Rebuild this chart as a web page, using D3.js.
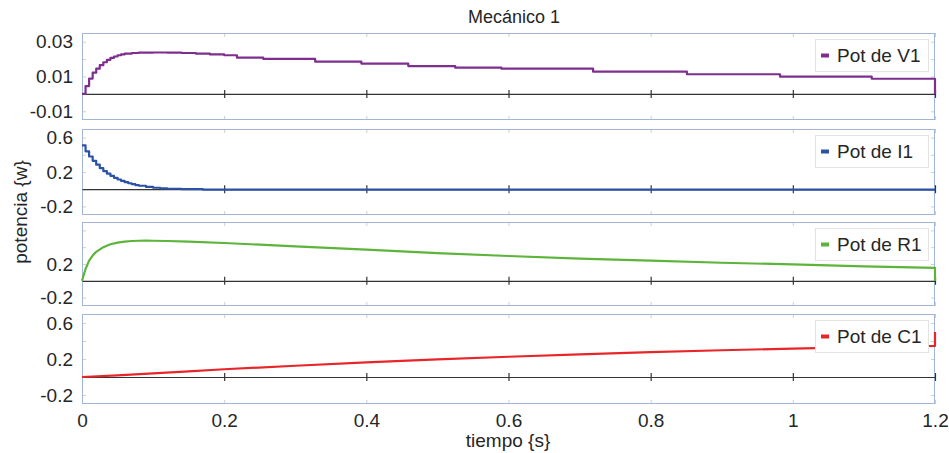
<!DOCTYPE html>
<html>
<head>
<meta charset="utf-8">
<script src="https://cdn.jsdelivr.net/npm/d3@7/dist/d3.min.js"></script>
<style>
body { margin: 0; background: #fff; }
text { font-family: "Liberation Sans", Arial, sans-serif; fill: #262626; }
</style>
</head>
<body>
<div class="svgContainer"></div>
<script>
// tiempo (s) y potencia (w)
let tV1 = [0, 0.005, 0.01, 0.015, 0.02, 0.025, 0.03, 0.035, 0.04, 0.045, 0.05, 0.055, 0.06, 0.07, 0.08, 0.1, 0.12, 0.14, 0.16, 0.18, 0.2, 0.218, 0.255, 0.328, 0.393, 0.459, 0.525, 0.59, 0.719, 0.851, 0.982, 1.111, 1.2];
let pV1 = [0, 0.0045, 0.0088, 0.0122, 0.0145, 0.0165, 0.0182, 0.0196, 0.0207, 0.0215, 0.0222, 0.0227, 0.0231, 0.0235, 0.0237, 0.0238, 0.0237, 0.0235, 0.0232, 0.0227, 0.0222, 0.0208, 0.0201, 0.0185, 0.0174, 0.016, 0.0151, 0.0145, 0.0128, 0.0113, 0.0099, 0.0087, 0];

let tI1 = [0, 0.005, 0.01, 0.015, 0.02, 0.025, 0.03, 0.035, 0.04, 0.045, 0.05, 0.055, 0.06, 0.065, 0.07, 0.075, 0.08, 0.09, 0.1, 0.11, 0.12, 0.14, 0.17, 0.2, 1.2];
let pI1 = [0.51, 0.44, 0.38, 0.33, 0.285, 0.245, 0.21, 0.18, 0.155, 0.132, 0.113, 0.096, 0.082, 0.069, 0.058, 0.048, 0.04, 0.027, 0.017, 0.01, 0.005, 0, -0.004, -0.005, -0.005];

let tR1 = [0, 0.005, 0.01, 0.015, 0.02, 0.03, 0.04, 0.05, 0.06, 0.07, 0.08, 0.09, 0.1, 0.12, 0.15, 0.2, 0.25, 0.3, 0.4, 0.5, 0.6, 0.7, 0.8, 0.9, 1.0, 1.1, 1.2, 1.2];
let pR1 = [0, 0.14, 0.24, 0.3, 0.345, 0.4, 0.435, 0.455, 0.467, 0.474, 0.477, 0.478, 0.477, 0.474, 0.466, 0.45, 0.43, 0.41, 0.37, 0.33, 0.295, 0.265, 0.24, 0.215, 0.195, 0.172, 0.155, 0];

let tC1 = [0, 0.05, 0.1, 0.15, 0.2, 0.3, 0.4, 0.5, 0.6, 0.7, 0.8, 0.9, 1.0, 1.1, 1.2, 1.2];
let pC1 = [0, 0.018, 0.04, 0.063, 0.086, 0.125, 0.162, 0.195, 0.225, 0.252, 0.276, 0.297, 0.316, 0.332, 0.345, 0.5];

let xTicks = [0, 0.2, 0.4, 0.6, 0.8, 1, 1.2];
let xTickLabels = ["0", "0.2", "0.4", "0.6", "0.8", "1", "1.2"];

let yTicksV1 = [-0.01, 0, 0.01, 0.02, 0.03];
let yLabelsV1 = ["-0.01", "", "0.01", "", "0.03"];
let yTicksP = [-0.2, 0, 0.2, 0.4, 0.6];
let yLabelsP = ["-0.2", "", "0.2", "", "0.6"];
let yLabelsR1 = ["-0.2", "", "0.2", "", ""];

let names = ["Pot de V1", "Pot de I1", "Pot de R1", "Pot de C1"];

let w = 949;
let h = 453;
let left = 82;
let right = 935;
let fs = 19;
let font = "'Liberation Sans', Arial, sans-serif";

const svg = d3.select(".svgContainer")
    .append("svg")
    .attr("width", w)
    .attr("height", h)
    .style("display", "block")
    .style("background-color", "white");

let xScale = d3.scaleLinear()
    .domain([0, 1.2])
    .range([left, right]);

const panels = [
    { name: names[0], t: tV1, p: pV1, color: "#7e2f8e", top: 33, bottom: 120, domain: [-0.015, 0.035], ticks: yTicksV1, labels: yLabelsV1, step: true },
    { name: names[1], t: tI1, p: pI1, color: "#2b52a6", top: 129, bottom: 215, domain: [-0.3, 0.7], ticks: yTicksP, labels: yLabelsP, step: true },
    { name: names[2], t: tR1, p: pR1, color: "#5cb43a", top: 222, bottom: 306, domain: [-0.3, 0.7], ticks: yTicksP, labels: yLabelsR1, step: false },
    { name: names[3], t: tC1, p: pC1, color: "#e8262a", top: 314, bottom: 404, domain: [-0.3, 0.7], ticks: yTicksP, labels: yLabelsP, step: false }
];

function styleAxis(g, color) {
    g.select(".domain").remove();
    g.selectAll(".tick line").attr("stroke", color);
    g.selectAll(".tick text")
        .attr("font-size", fs)
        .attr("font-family", font)
        .attr("fill", "#262626");
}

panels.forEach((pn, k) => {
    let yScale = d3.scaleLinear()
        .domain(pn.domain)
        .range([pn.bottom, pn.top]);

    let g = svg.append("g");

    g.append("clipPath")
        .attr("id", "clip" + k)
        .append("rect")
        .attr("x", left - 2)
        .attr("y", pn.top)
        .attr("width", right - left + 4)
        .attr("height", pn.bottom - pn.top);

    g.append("rect")
        .attr("x", left)
        .attr("y", pn.top)
        .attr("width", right - left)
        .attr("height", pn.bottom - pn.top)
        .attr("fill", "white");

    g.append("g")
        .attr("transform", `translate(${left},0)`)
        .call(d3.axisLeft(yScale).tickValues(pn.ticks).tickSize(-4).tickPadding(9)
            .tickFormat((d, i) => pn.labels[i]))
        .call(s => styleAxis(s, "#cfcfcf"));

    g.append("g")
        .attr("transform", `translate(${right},0)`)
        .call(d3.axisRight(yScale).tickValues(pn.ticks).tickSize(-4).tickFormat(""))
        .call(s => styleAxis(s, "#cfcfcf"));

    g.append("g")
        .attr("transform", `translate(0,${pn.top})`)
        .call(d3.axisTop(xScale).tickValues(xTicks).tickSize(-4).tickFormat(""))
        .call(s => styleAxis(s, "#cfcfcf"));

    g.append("g")
        .attr("transform", `translate(0,${pn.bottom})`)
        .call(d3.axisBottom(xScale).tickValues(xTicks).tickSize(-4).tickPadding(10)
            .tickFormat((d, i) => k == panels.length - 1 ? xTickLabels[i] : ""))
        .call(s => styleAxis(s, "#cfcfcf"));

    g.append("rect")
        .attr("x", left + 0.5)
        .attr("y", pn.top + 0.5)
        .attr("width", right - left - 1)
        .attr("height", pn.bottom - pn.top - 1)
        .attr("fill", "none")
        .attr("stroke", "#9fb6d6")
        .attr("stroke-width", 1);

    // linea de cero con marcas
    let y0 = yScale(0);
    g.append("g")
        .attr("transform", `translate(0,${y0})`)
        .call(d3.axisBottom(xScale).tickValues(xTicks.slice(1)).tickSize(4).tickSizeOuter(0).tickFormat(""))
        .call(s => s.selectAll("path, line").attr("stroke", "#333").attr("stroke-width", 1.2));
    g.append("g")
        .attr("transform", `translate(0,${y0})`)
        .call(d3.axisTop(xScale).tickValues(xTicks.slice(1)).tickSize(4).tickSizeOuter(0).tickFormat(""))
        .call(s => s.select(".domain").remove())
        .call(s => s.selectAll("line").attr("stroke", "#333").attr("stroke-width", 1.2));

    let line = d3.line()
        .x(d => xScale(d[0]))
        .y(d => yScale(d[1]))
        .curve(pn.step ? d3.curveStepAfter : d3.curveLinear);

    g.append("path")
        .datum(pn.t.map((t, i) => [t, pn.p[i]]))
        .attr("clip-path", `url(#clip${k})`)
        .attr("d", line)
        .attr("fill", "none")
        .attr("stroke", pn.color)
        .attr("stroke-width", 2.2)
        .attr("stroke-linejoin", "round");

    let lg = g.append("g")
        .attr("transform", `translate(815,${pn.top + 6})`);
    lg.append("rect")
        .attr("x", 0.5)
        .attr("y", 0.5)
        .attr("width", 113)
        .attr("height", 32)
        .attr("fill", "white")
        .attr("stroke", "#e3e3e3");
    lg.append("rect")
        .attr("x", 6)
        .attr("y", 14.5)
        .attr("width", 8)
        .attr("height", 4)
        .attr("fill", pn.color);
    lg.append("text")
        .attr("x", 22)
        .attr("y", 23)
        .attr("font-size", fs)
        .text(pn.name);
});

svg.append("text")
    .attr("x", 514)
    .attr("y", 23)
    .attr("text-anchor", "middle")
    .attr("font-size", 18)
    .text("Mecánico 1");

svg.append("text")
    .attr("x", 508)
    .attr("y", 447)
    .attr("text-anchor", "middle")
    .attr("font-size", fs)
    .text("tiempo {s}");

svg.append("text")
    .attr("transform", "rotate(-90)")
    .attr("x", -212)
    .attr("y", 27)
    .attr("text-anchor", "middle")
    .attr("font-size", fs)
    .text("potencia {w}");
</script>
</body>
</html>
